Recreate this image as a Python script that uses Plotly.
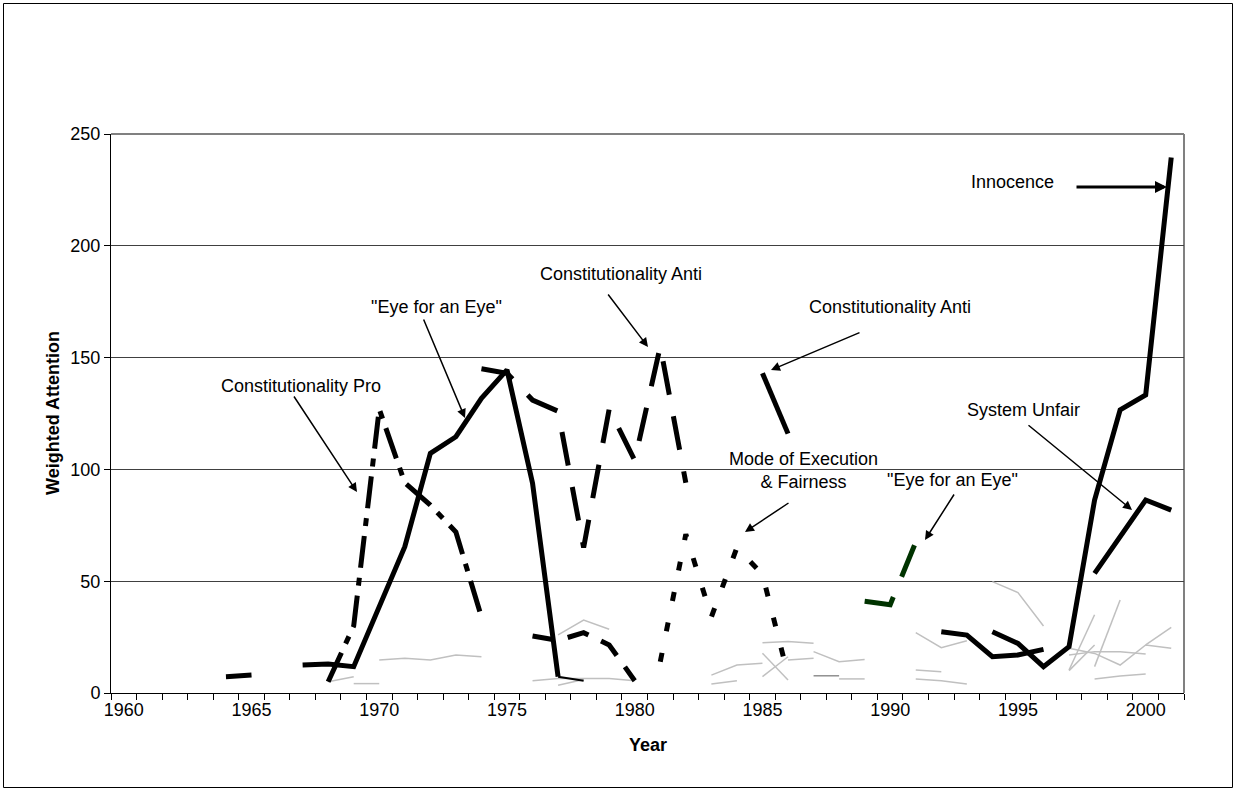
import plotly.graph_objects as go

# ---------------- data ----------------
eye_years = [1964, 1965, 1966, 1967, 1968, 1969, 1970, 1971, 1972, 1973, 1974, 1975, 1976, 1977]
eye_vals = [7.3, 8.0, None, 12.5, 13.0, 11.8, 38.0, 65.4, 107.2, 114.6, 131.8, 144.5, 93.8, 7.3]

thin_years = [1977, 1978]
thin_vals = [7.3, 5.5]

conpro_years = [1968, 1969, 1970, 1971, 1972, 1973, 1974]
conpro_vals = [5.0, 30.0, 127.0, 94.0, 84.0, 72.0, 34.0]

conanti1_years = [1974, 1975, 1976, 1977, 1978, 1979, 1980, 1981, 1982]
conanti1_vals = [145.0, 143.0, 131.0, 126.0, 65.0, 127.0, 104.0, 155.0, 94.0]

lowdash_years = [1976, 1977, 1978, 1979, 1980]
lowdash_vals = [25.5, 23.5, 27.0, 21.5, 5.5]

mode_years = [1981, 1982, 1983, 1984, 1985, 1986]
mode_vals = [14.0, 71.0, 34.0, 65.0, 53.0, 8.0]

conanti2_years = [1985, 1986]
conanti2_vals = [143.0, 116.0]

eye2_years = [1989, 1990, 1991]
eye2_vals = [41.0, 39.5, 67.5]

blackA_years = [1992, 1993, 1994, 1995, 1996]
blackA_vals = [27.4, 25.9, 16.2, 17.0, 19.5]

innocence_years = [1994, 1995, 1996, 1997, 1998, 1999, 2000, 2001]
innocence_vals = [27.4, 22.2, 11.8, 20.7, 86.3, 126.6, 133.3, 239.5]

unfair_years = [1998, 1999, 2000, 2001]
unfair_vals = [53.5, 70.0, 86.3, 81.8]

# thin grey series (year list, value list)
grey_series = [
    ([1968, 1969], [5.0, 7.3]),
    ([1969, 1970], [4.2, 4.2]),
    ([1970, 1971, 1972, 1973, 1974], [14.8, 15.5, 14.8, 17.0, 16.2]),
    ([1976, 1977, 1978, 1979, 1980], [5.5, 6.5, 6.5, 6.5, 5.5]),
    ([1977, 1978], [3.5, 6.0]),
    ([1977, 1978, 1979], [26.0, 32.6, 28.5]),
    ([1983, 1984, 1985], [8.0, 12.5, 13.3]),
    ([1983, 1984], [4.0, 5.5]),
    ([1985, 1986, 1987], [22.5, 23.0, 22.2]),
    ([1985, 1986], [17.8, 5.8]),
    ([1985, 1986], [7.3, 16.2]),
    ([1986, 1987], [14.8, 15.5]),
    ([1987, 1988, 1989], [18.5, 14.0, 15.0]),
    ([1988, 1989], [6.3, 6.3]),
    ([1991, 1992, 1993], [27.0, 20.3, 23.4]),
    ([1991, 1992], [10.3, 9.5]),
    ([1991, 1992, 1993], [6.3, 5.5, 4.0]),
    ([1994, 1995, 1996], [49.8, 44.9, 30.0]),
    ([1997, 1998, 1999, 2000, 2001], [20.0, 17.7, 12.5, 21.5, 20.0]),
    ([1997, 1998, 1999, 2000], [17.0, 18.5, 18.5, 17.4]),
    ([2000, 2001], [21.5, 29.4]),
    ([1997, 1998], [10.3, 35.0]),
    ([1997, 1998], [10.0, 21.5]),
    ([1998, 1999], [11.8, 41.6]),
    ([1998, 1999, 2000], [6.3, 7.6, 8.5]),
]
darkgrey_years = [1987, 1988]
darkgrey_vals = [7.7, 7.7]

year_ticks = [1960, 1965, 1970, 1975, 1980, 1985, 1990, 1995, 2000]
value_ticks = [0, 50, 100, 150, 200, 250]

# ---------------- layout geometry ----------------
W, H = 1236, 792
PL, PR, PT, PB = 111, 1184, 134, 693
X0, X1 = 1959.5, 2001.5
Y0, Y1 = 0, 250
FONT = "Liberation Sans, Arial, sans-serif"


def px2x(px):
    return X0 + (px - PL) / (PR - PL) * (X1 - X0)


def px2y(py):
    return Y0 + (PB - py) / (PB - PT) * (Y1 - Y0)


def pxx_paper(px):
    return (px - PL) / (PR - PL)


def pxy_paper(py):
    return (PB - py) / (PB - PT)


fig = go.Figure()

GREY = "#c0c0c0"
for yrs, vals in grey_series:
    fig.add_trace(go.Scatter(x=yrs, y=vals, mode="lines",
                             line=dict(color=GREY, width=1.5), hoverinfo="skip"))
fig.add_trace(go.Scatter(x=darkgrey_years, y=darkgrey_vals, mode="lines",
                         line=dict(color="#909090", width=1.5)))

BLACK = "#000000"
fig.add_trace(go.Scatter(x=thin_years, y=thin_vals, mode="lines",
                         line=dict(color=BLACK, width=2)))
fig.add_trace(go.Scatter(x=eye_years, y=eye_vals, mode="lines", connectgaps=False,
                         line=dict(color=BLACK, width=5)))
fig.add_trace(go.Scatter(x=conpro_years, y=conpro_vals, mode="lines",
                         line=dict(color=BLACK, width=5, dash="32px,10px,8px,10px")))
fig.add_trace(go.Scatter(x=conanti1_years, y=conanti1_vals, mode="lines",
                         line=dict(color=BLACK, width=5, dash="34px,22px")))
fig.add_trace(go.Scatter(x=lowdash_years, y=lowdash_vals, mode="lines",
                         line=dict(color=BLACK, width=5, dash="22px,14px")))
fig.add_trace(go.Scatter(x=mode_years, y=mode_vals, mode="lines",
                         line=dict(color=BLACK, width=5, dash="9px,22px")))
fig.add_trace(go.Scatter(x=conanti2_years, y=conanti2_vals, mode="lines",
                         line=dict(color=BLACK, width=5)))
fig.add_trace(go.Scatter(x=eye2_years, y=eye2_vals, mode="lines",
                         line=dict(color="#003300", width=5, dash="34px,22px")))
fig.add_trace(go.Scatter(x=blackA_years, y=blackA_vals, mode="lines",
                         line=dict(color=BLACK, width=5)))
fig.add_trace(go.Scatter(x=innocence_years, y=innocence_vals, mode="lines",
                         line=dict(color=BLACK, width=5)))
fig.add_trace(go.Scatter(x=unfair_years, y=unfair_vals, mode="lines",
                         line=dict(color=BLACK, width=5)))

# ---------------- annotations ----------------
labels = [
    ("Constitutionality Pro", 301, 386),
    ("\"Eye for an Eye\"", 436, 307),
    ("Constitutionality Anti", 621, 274),
    ("Constitutionality Anti", 890, 307),
    ("Mode of Execution<br>& Fairness", 803, 470),
    ("\"Eye for an Eye\"", 952, 480),
    ("Innocence", 1012, 182),
    ("System Unfair", 1023, 410),
]
arrows = [
    ((293, 395), (357, 492), 1.5),
    ((423, 318), (465, 418), 1.5),
    ((607, 293), (648, 347), 1.5),
    ((861, 332), (771, 370), 1.5),
    ((790, 502), (745, 532), 1.5),
    ((955, 493), (925, 540), 1.5),
    ((1075, 187), (1167, 187), 3),
    ((1027, 424), (1132, 510), 1.5),
]
annotations = []
for text, cx, cy in labels:
    annotations.append(dict(x=px2x(cx), y=px2y(cy), xref="x", yref="y", text=text,
                            showarrow=False, font=dict(family=FONT, size=18, color="black"),
                            align="center"))
for (tx, ty), (hx, hy), w in arrows:
    annotations.append(dict(x=px2x(hx), y=px2y(hy), xref="x", yref="y",
                            ax=px2x(tx), ay=px2y(ty), axref="x", ayref="y",
                            text="", showarrow=True, arrowhead=2,
                            arrowsize=1.2 if w < 2 else 0.8, arrowwidth=w,
                            arrowcolor="black"))
# axis titles
annotations.append(dict(x=pxx_paper(648), y=pxy_paper(757), xref="paper", yref="paper",
                        text="<b>Year</b>", showarrow=False,
                        font=dict(family=FONT, size=18, color="black")))
annotations.append(dict(x=pxx_paper(41), y=pxy_paper(413), xref="paper", yref="paper",
                        text="<b>Weighted Attention</b>", showarrow=False, textangle=-90,
                        font=dict(family=FONT, size=18, color="black")))

shapes = [
    # outer chart border
    dict(type="rect", xref="paper", yref="paper",
         x0=pxx_paper(3.5), x1=pxx_paper(1232.5), y0=pxy_paper(787.5), y1=pxy_paper(3.5),
         line=dict(color="black", width=1)),
    # plot area border (top, right)
    dict(type="line", xref="paper", yref="paper", x0=0, x1=1, y0=1, y1=1,
         line=dict(color="#808080", width=2), layer="below"),
    dict(type="line", xref="paper", yref="paper", x0=1, x1=1, y0=0, y1=1,
         line=dict(color="#808080", width=2), layer="below"),
]

fig.update_layout(
    width=W, height=H,
    margin=dict(l=PL, r=W - PR, t=PT, b=H - PB, pad=0),
    paper_bgcolor="white", plot_bgcolor="white",
    showlegend=False,
    hovermode=False,
    font=dict(family=FONT, size=18, color="black"),
    annotations=annotations,
    shapes=shapes,
    xaxis=dict(range=[X0, X1], tickvals=year_ticks, ticks="", showgrid=False,
               zeroline=False, showline=True, linecolor="black", linewidth=1,
               tickfont=dict(family=FONT, size=18, color="black"),
               minor=dict(tick0=X0, dtick=1, ticks="outside", ticklen=6,
                          tickcolor="black", tickwidth=1, showgrid=False)),
    yaxis=dict(range=[Y0, Y1], tickvals=value_ticks, ticks="outside", ticklen=6,
               tickcolor="black", showgrid=True, gridcolor="#404040", gridwidth=1,
               zeroline=False, showline=True, linecolor="black", linewidth=1,
               tickfont=dict(family=FONT, size=18, color="black")),
)

fig.write_html("out.html",
               config={"displayModeBar": False, "staticPlot": True},
               post_script="document.body.style.margin='0';document.body.style.overflow='hidden';")
